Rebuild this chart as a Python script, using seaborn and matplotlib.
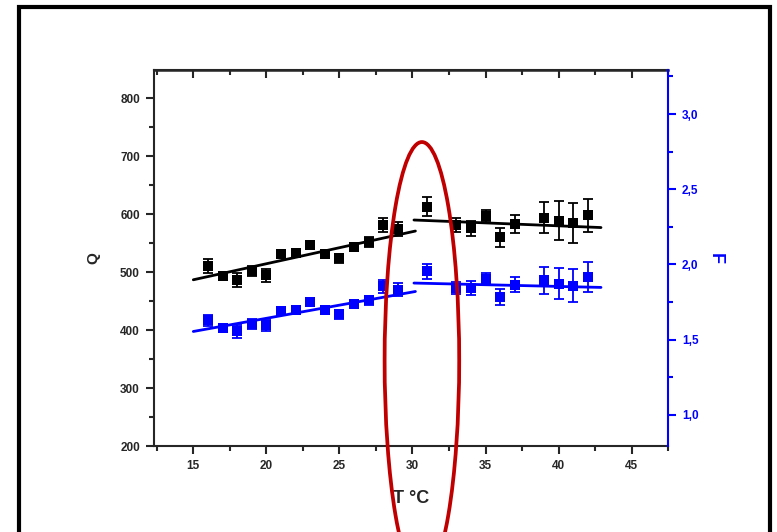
import matplotlib
matplotlib.use("Agg")
import matplotlib.pyplot as plt
from matplotlib.patches import Ellipse, Rectangle
from matplotlib.ticker import MultipleLocator, FuncFormatter
import pandas as pd
import seaborn as sns

# data
t_low = [16, 17, 18, 19, 20, 21, 22, 23, 24, 25, 26, 27, 28, 29]
t_high = [31, 33, 34, 35, 36, 37, 39, 40, 41, 42]

q_low = [510, 494, 487, 502, 495, 532, 534, 547, 532, 524, 544, 552, 581, 575]
q_low_err = [12, 7, 12, 9, 11, 5, 5, 5, 5, 8, 5, 8, 12, 12]
q_high = [613, 581, 576, 597, 560, 583, 594, 589, 585, 598]
q_high_err = [16, 12, 13, 11, 16, 15, 27, 34, 35, 29]

f_low = [1.627, 1.577, 1.554, 1.605, 1.594, 1.687, 1.699, 1.747, 1.699, 1.670, 1.736, 1.760, 1.854, 1.832]
f_low_err = [0.035, 0.02, 0.045, 0.035, 0.035, 0.02, 0.02, 0.02, 0.02, 0.03, 0.02, 0.03, 0.045, 0.045]
f_high = [1.953, 1.843, 1.843, 1.905, 1.783, 1.865, 1.894, 1.872, 1.858, 1.916]
f_high_err = [0.05, 0.04, 0.045, 0.035, 0.055, 0.05, 0.09, 0.105, 0.11, 0.1]

# linear fits (end points as drawn)
fit_t_low = [15, 30.2]
fit_t_high = [30.1, 42.9]
fit_q_low = [487, 571]
fit_q_high = [590, 577]
fit_f_low = [1.554, 1.82]
fit_f_high = [1.876, 1.847]

x_ticks = [15, 20, 25, 30, 35, 40, 45]
q_ticks = [200, 300, 400, 500, 600, 700, 800]
f_ticks = [1.0, 1.5, 2.0, 2.5, 3.0]

sns.set_style("ticks")
plt.rcParams["font.family"] = ["Liberation Sans", "DejaVu Sans"]
plt.rcParams["font.weight"] = "bold"
plt.rcParams["axes.labelweight"] = "bold"

BLUE = "#0000ff"

df = pd.DataFrame({"T": t_low + t_high, "Q": q_low + q_high, "F": f_low + f_high})

fig = plt.figure(figsize=(7.77, 5.32), dpi=100)
ax = fig.add_axes([0.198, 0.161, 0.662, 0.708])
ax2 = ax.twinx()

# Q series (left axis)
ax.errorbar(t_low + t_high, q_low + q_high, yerr=q_low_err + q_high_err, fmt="none",
            ecolor="black", elinewidth=1.3, capsize=3.3, capthick=1.3, zorder=2)
sns.scatterplot(data=df, x="T", y="Q", marker="s", s=48, color="black",
                linewidth=0, ax=ax, zorder=3)
sns.lineplot(x=fit_t_low, y=fit_q_low, color="black", lw=2, ax=ax)
sns.lineplot(x=fit_t_high, y=fit_q_high, color="black", lw=2, ax=ax)

# F series (right axis)
ax2.errorbar(t_low + t_high, f_low + f_high, yerr=f_low_err + f_high_err, fmt="none",
             ecolor=BLUE, elinewidth=1.3, capsize=3.3, capthick=1.3, zorder=2)
sns.scatterplot(data=df, x="T", y="F", marker="s", s=48, color=BLUE,
                linewidth=0, ax=ax2, zorder=3)
sns.lineplot(x=fit_t_low, y=fit_f_low, color=BLUE, lw=2, ax=ax2)
sns.lineplot(x=fit_t_high, y=fit_f_high, color=BLUE, lw=2, ax=ax2)

ax.set_xlim(12.3, 47.5)
ax.set_ylim(200, 849)
ax2.set_ylim(0.79, 3.295)

ax.set_xticks(x_ticks)
ax.xaxis.set_minor_locator(MultipleLocator(2.5))
ax.set_yticks(q_ticks)
ax.yaxis.set_minor_locator(MultipleLocator(50))
ax2.set_yticks(f_ticks)
ax2.yaxis.set_minor_locator(MultipleLocator(0.25))
ax2.yaxis.set_major_formatter(FuncFormatter(lambda v, p: f"{v:.1f}".replace(".", ",")))

ax.tick_params(axis="both", which="major", direction="out", length=6, width=1.5,
               labelsize=8.5, pad=4)
ax.tick_params(axis="both", which="minor", direction="out", length=3.5, width=1.5)
ax.tick_params(axis="y", right=False)
ax2.tick_params(axis="y", which="major", direction="out", length=6, width=1.5,
                colors=BLUE, labelsize=8.5, pad=4)
ax2.tick_params(axis="y", which="minor", direction="out", length=3.5, width=1.5, colors=BLUE)

top = ax.secondary_xaxis("top")
top.set_xticks(x_ticks)
top.xaxis.set_minor_locator(MultipleLocator(2.5))
top.tick_params(which="major", direction="in", length=6, width=1.5, labeltop=False)
top.tick_params(which="minor", direction="in", length=3.5, width=1.5)
top.spines["top"].set_linewidth(1.8)

for s in ["left", "bottom", "top"]:
    ax.spines[s].set_linewidth(1.5)
    ax2.spines[s].set_visible(False)
ax.spines["right"].set_visible(False)
ax2.spines["right"].set_color(BLUE)
ax2.spines["right"].set_linewidth(1.5)

ax.set_xlabel("T °C", fontsize=13, labelpad=13)
ax.set_ylabel("Q", fontsize=11, labelpad=14)
ax2.set_ylabel("F", fontsize=13, color=BLUE, rotation=270, labelpad=18)

# red ellipse highlight and outer frame
fig.add_artist(Ellipse((0.543, 0.322), 0.096, 0.822, transform=fig.transFigure,
                       fill=False, edgecolor="#c00000", lw=2.7, zorder=10))
fig.add_artist(Rectangle((0.0245, -0.2), 0.967, 1.187, transform=fig.transFigure,
                         fill=False, edgecolor="black", lw=3, zorder=10))

fig.savefig("out.png", dpi=100)
